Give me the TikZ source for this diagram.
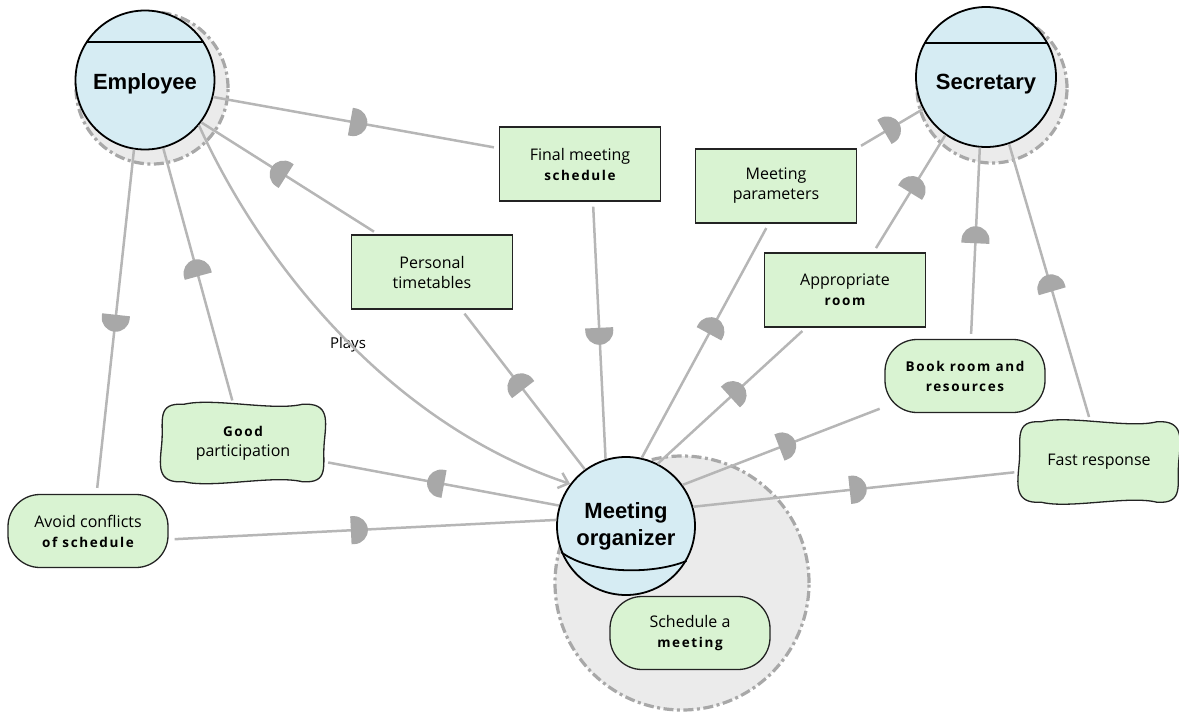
\documentclass[tikz,border=0pt]{standalone}
\usepackage{fontspec}
\usetikzlibrary{calc,decorations.markings,arrows.meta,backgrounds}
\newfontfamily\actorfont{Liberation Sans}
\newfontfamily\depfont{Open Sans}
\newfontfamily\depboldfont[LetterSpace=12]{Open Sans}
\newcommand{\db}[1]{{\depboldfont\bfseries\fontsize{13.5}{20}\selectfont #1}}
\definecolor{actorfill}{RGB}{214,236,243}
\definecolor{depfill}{RGB}{217,243,210}
\definecolor{bndfill}{RGB}{235,235,235}
\definecolor{bnddraw}{RGB}{168,168,168}
\definecolor{linkgray}{RGB}{182,182,182}
\definecolor{dgray}{RGB}{168,168,168}
\definecolor{boxline}{RGB}{35,35,35}
\newcommand{\softborder}[1]{%
 \draw[boxline, line width=1.3pt, fill=depfill]
 ($(#1.north west)+(22,0)$) .. controls ($(#1.north)+(-30,-7)$) and ($(#1.north)+(30,7)$) .. ($(#1.north east)+(-22,0)$)
 .. controls ($(#1.north east)+(6,-2)$) and ($(#1.east)+(2,-22)$) .. (#1.east)
 .. controls ($(#1.east)+(-2,22)$) and ($(#1.south east)+(6,2)$) .. ($(#1.south east)+(-22,0)$)
 .. controls ($(#1.south)+(30,-7)$) and ($(#1.south)+(-30,7)$) .. ($(#1.south west)+(22,0)$)
 .. controls ($(#1.south west)+(-6,2)$) and ($(#1.west)+(-2,22)$) .. (#1.west)
 .. controls ($(#1.west)+(2,-22)$) and ($(#1.north west)+(-6,-2)$) .. cycle;}
\tikzset{
 actornode/.style={circle, draw=black, line width=1.8pt, fill=actorfill, minimum size=#1, inner sep=0pt,
   font=\actorfont\bfseries\fontsize{22}{27}\selectfont, align=center},
 boundary/.style={fill=bndfill, draw=bnddraw, line width=3.2pt, dash pattern=on 10pt off 3.5pt on 3pt off 3.5pt},
 resource/.style={rectangle, draw=boxline, line width=1.3pt, fill=depfill, minimum width=161pt, minimum height=74pt,
   inner sep=2pt, align=center, font=\depfont\fontsize{16}{20}\selectfont},
 goalnode/.style={resource, minimum width=160pt, minimum height=73pt, rounded corners=32pt},
 softnode/.style={rectangle, minimum width=162pt, minimum height=77pt, inner sep=2pt, align=center,
   font=\depfont\fontsize{16}{20}\selectfont},
 link/.style={draw=linkgray, line width=2.5pt},
 dfwd/.style={postaction={decorate, decoration={markings, mark=at position #1 with
   {\fill[dgray] (0pt,-14pt) -- (3pt,-14pt) arc[start angle=-90,end angle=90,radius=14pt] -- (0pt,14pt) -- cycle;}}}},
 chord/.style={draw=black, line width=1.8pt}
}
\begin{document}
\begin{tikzpicture}[x=1pt,y=-1pt]
\useasboundingbox (0,0) rectangle (1179,713);
% actors
\node[actornode=139pt, text height=24pt, text depth=4.6pt] (emp) at (145,80) {Employee};
\node[actornode=140pt, text height=30pt, text depth=4.6pt] (sec) at (986,77) {Secretary};
\node[actornode=138pt] (org) at (626,526) {Meeting\\organizer};
\draw[chord] (emp.33) -- (emp.147);
\draw[chord] (sec.29) -- (sec.151);
\draw[chord] (org.202) .. controls ($(org.202)+(30,22)$) and ($(org.330)+(-35,14)$) .. (org.330);
% dependums
\node[resource] (fms) at (580,164) {Final meeting\\\db{schedule}};
\node[resource] (pt) at (432,272) {Personal\\timetables};
\node[resource] (mp) at (776,186) {Meeting\\parameters};
\node[resource] (ar) at (845,290) {Appropriate\\\db{room}};
\node[goalnode] (avoid) at (88,531) {Avoid conflicts\\\db{of schedule}};
\node[goalnode] (brr) at (965,376) {\db{Book room and}\\\db{resources}};
\node[goalnode] (sched) at (690,633) {Schedule a\\\db{meeting}};
\node[softnode] (good) at (243,443) {\db{Good}\\participation};
\node[softnode, minimum width=159pt, minimum height=80pt] (fast) at (1099,462) {Fast response};
\node[font=\depfont\fontsize{15}{17}\selectfont, text=black] (plays) at (348,345) {Plays};
\begin{scope}[on background layer]
\draw[boundary] (152,88) circle[radius=76pt];
\draw[boundary] (992,88) circle[radius=75pt];
\draw[boundary] (682,583) circle[radius=127pt];
\softborder{good}
\softborder{fast}
\end{scope}
% links: Employee side
\draw[link, dfwd=0.48, shorten >=5pt] (emp.-14) -- (fms.169);
\draw[link, dfwd=0.49, shorten <=5pt] (fms.-71) -- (org.107);
\draw[link, dfwd=0.50, shorten >=5pt] (org.126) -- (pt.-52);
\draw[link, dfwd=0.52, shorten <=5pt] (pt.145) -- (emp.-37);
\draw[link, dfwd=0.49, shorten >=4pt] (org.163) -- (good.-13);
\draw[link, dfwd=0.50, shorten <=4pt] (good.104) -- (emp.-75);
\draw[link, dfwd=0.48, shorten >=6pt] (emp.-99) -- (avoid.77);
\draw[link, dfwd=0.47, shorten <=6pt] (avoid.-6) -- (org.175);
\draw[link, -{Straight Barb[length=9pt,width=16pt]}] (emp.-40) .. controls (255,250) and (380,420) .. (org.143);
% links: Secretary side
\draw[link, dfwd=0.49, shorten >=5pt] (org.63) -- (ar.-136);
\draw[link, dfwd=0.51, shorten <=5pt] (ar.53) -- (sec.-125);
\draw[link, dfwd=0.53, shorten >=5pt] (org.77) -- (mp.-101);
\draw[link, dfwd=0.42, shorten <=5pt] (mp.25) -- (sec.-153);
\draw[link, dfwd=0.48, shorten >=5pt] (org.36) -- (brr.-159);
\draw[link, dfwd=0.50, shorten <=5pt] (brr.81) -- (sec.-95);
\draw[link, dfwd=0.48, shorten >=5pt] (org.16) -- (fast.-173);
\draw[link, dfwd=0.47, shorten <=5pt] (fast.102) -- (sec.-71);
\end{tikzpicture}
\end{document}
